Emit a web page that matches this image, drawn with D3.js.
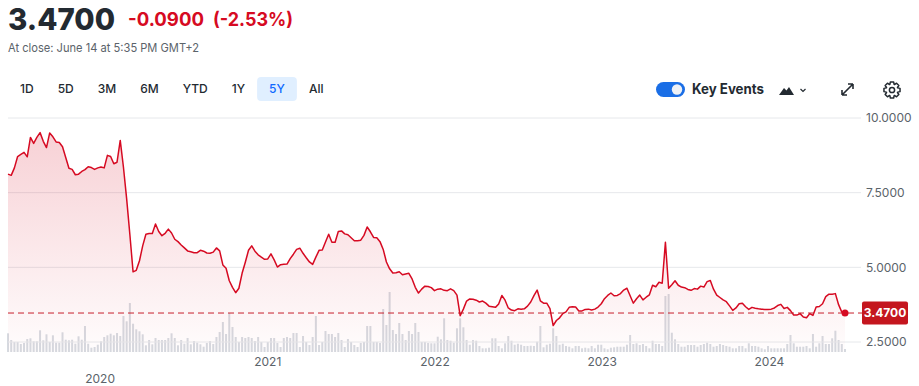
<!DOCTYPE html>
<html>
<head>
<meta charset="utf-8">
<script src="https://cdn.jsdelivr.net/npm/d3@7"></script>
<style>
  body { margin: 0; background: #fff; }
  svg { display: block; font-family: Inter, "Liberation Sans", Arial, sans-serif; }
</style>
</head>
<body>
<div id="chart"></div>
<script>
// weekly closes, first week 2019-06-14, last 2024-06-14
const firstWeek = "2019-06-14"
const closes = [
  8.12, 8.08, 8.33, 8.71, 8.78, 8.85, 8.70, 9.35, 9.15, 9.35,
  9.51, 9.22, 9.01, 9.50, 9.37, 9.20, 9.18, 9.04, 8.68, 8.32,
  8.28, 8.10, 8.12, 8.21, 8.27, 8.37, 8.34, 8.28, 8.33, 8.36,
  8.33, 8.75, 8.71, 8.47, 8.52, 9.25, 8.35, 7.29, 6.10, 4.85,
  4.90, 5.22, 5.72, 6.11, 6.13, 6.13, 6.45, 6.20, 6.06, 6.14,
  6.28, 6.15, 5.94, 5.86, 5.75, 5.65, 5.55, 5.52, 5.49, 5.49,
  5.57, 5.54, 5.48, 5.47, 5.51, 5.65, 5.55,
  5.08, 4.97, 4.55, 4.33, 4.15, 4.30, 4.80, 5.17, 5.57, 5.72,
  5.54, 5.42, 5.34, 5.27, 5.28, 5.45, 5.25, 5.01, 5.09, 5.10,
  5.11, 5.29, 5.44, 5.60, 5.64, 5.47, 5.32, 5.18, 5.10, 5.34,
  5.57, 5.58, 5.85, 6.11, 5.84, 5.84, 6.20, 6.22, 6.12, 6.09,
  5.99, 5.89, 5.89, 5.91, 6.07, 6.35, 6.19, 6.00, 5.99, 5.86,
  5.60, 5.18, 4.95, 4.81, 4.82, 4.85, 4.75, 4.78, 4.80, 4.61,
  4.33, 4.14, 4.27, 4.37, 4.36,
  4.32, 4.22, 4.27, 4.28, 4.23, 4.22, 4.28, 4.22, 4.07, 3.38,
  3.60, 3.87, 3.94, 3.93, 3.90, 3.84, 3.87, 3.80, 3.70, 3.68,
  3.66, 3.77, 4.06, 3.90, 3.64, 3.57, 3.55, 3.61, 3.60, 3.61,
  3.70, 3.84, 4.05, 4.24, 3.88, 3.80, 3.80, 3.62, 3.05, 3.22,
  3.31, 3.45, 3.51, 3.66, 3.68, 3.67, 3.54, 3.54, 3.59, 3.60,
  3.57, 3.60, 3.67, 3.78, 3.95, 4.06, 4.14, 4.05, 4.06, 4.12,
  4.24, 4.30, 4.05, 3.80, 3.95, 4.07,
  3.91, 4.00, 4.08, 4.40, 4.35, 4.50, 4.47, 5.84, 4.30, 4.42,
  4.55, 4.40, 4.34, 4.32, 4.26, 4.23, 4.29, 4.27, 4.37, 4.34,
  4.52, 4.56, 4.27, 4.07, 3.99, 3.91, 3.85, 3.71, 3.56, 3.64,
  3.78, 3.80, 3.68, 3.59, 3.66, 3.63, 3.61, 3.60, 3.59, 3.59,
  3.60, 3.64, 3.72, 3.76, 3.62, 3.66, 3.55, 3.40, 3.40, 3.45,
  3.34, 3.31, 3.45, 3.39, 3.67, 3.69, 3.78, 4.02, 4.10, 4.10,
  4.12, 3.75, 3.50, 3.47
]
// weekly volume, same weeks (relative units)
const volumes = [
  18.7, 12, 10, 10, 8, 9, 13, 13.7, 10.7, 10.7,
  21.7, 11.7, 17.7, 10, 16.7, 9.3, 9.3, 19.7, 12.3, 11.7,
  12.3, 8.3, 15.7, 12.3, 26, 8.3, 4.3, 5, 7.3, 10.7,
  15, 16.7, 18.3, 16.7, 19, 16, 36, 30.7, 49, 28.3,
  22.7, 20.7, 17.7, 6.7, 12, 7.7, 14, 12, 12, 12,
  14, 18.7, 14, 6.7, 12, 8.3, 14, 7.7, 11, 9.3,
  7.7, 5.3, 9,
  11, 8, 15, 20, 30, 18, 39, 25, 15, 10,
  15, 14, 15, 14, 11, 15, 10, 5, 10, 14,
  14, 9, 5, 14, 15, 14, 19, 19, 5, 16,
  10, 7, 15, 36, 7, 10, 21, 18, 18, 15,
  19, 12, 5, 13, 10, 7, 5, 9, 10, 26,
  26, 10, 10, 9, 43, 27, 60, 22, 18, 29,
  18, 12, 21, 18, 29, 20, 10, 10, 9,
  8.7, 8.7, 15.3, 12.7, 33.7, 12, 11.3, 9.3, 23.7, 33.7,
  24.7, 12, 7.3, 12, 11.3, 6, 3.7, 3.7, 4.3, 13.7,
  13.7, 6, 3.7, 8.7, 16, 11.3, 7.3, 8.3, 7.3, 6,
  6, 6.3, 6, 10.3, 26, 4.7, 7.3, 8.3, 23.7, 16,
  7.3, 8.3, 6, 5.3, 3.7, 6, 6, 3.7, 4.3, 3.7,
  6, 3.7, 7.3, 7.3, 3.7, 2.7, 4.3, 4.7, 5.3, 5.3,
  5.3, 7.3,
  17, 8, 8.7, 7, 8, 6, 3.7, 11.3, 8, 8,
  6, 56, 58, 19.3, 12.7, 8, 5.3, 5.3, 7, 7,
  7, 5.3, 7, 8, 9.3, 8, 5.3, 6, 8, 7,
  6, 5.3, 3.7, 3.7, 6, 6, 3.7, 8.7, 6, 6,
  5.3, 3.7, 2.7, 6, 3.7, 3.7, 3.7, 3.7, 3.7, 8,
  17, 8.7, 5.3, 5.3, 5.3, 6, 3.7, 18, 5.3, 8.7,
  16, 8, 8, 13.7, 21.3, 12, 8, 3
]
const priceTicks = [2.5, 5, 7.5, 10]
const yearTicks = [2020, 2021, 2022, 2023, 2024]
const ranges = ["1D", "5D", "3M", "6M", "YTD", "1Y", "5Y", "All"]
const activeRange = "5Y"
const lastClose = 3.47
const change = "-0.0900"
const changePct = "(-2.53%)"
const closeNote = "At close: June 14 at 5:35 PM GMT+2"

;(function () {
  const W = 919, H = 386
  const red = "#d60a22", ink = "#232a31", muted = "#5b636a"
  const plot = { left: 8, right: 845, top: 118, bottom: 342, floor: 352 }

  const svg = d3.select("#chart").append("svg")
    .attr("width", W).attr("height", H)

  const t0 = d3.timeParse("%Y-%m-%d")(firstWeek)
  const dates = closes.map((_, i) => d3.timeDay.offset(t0, 7 * i))

  const x = d3.scaleTime()
    .domain([dates[0], dates[dates.length - 1]])
    .range([plot.left, plot.right])
  const y = d3.scaleLinear().domain([2.5, 10]).range([plot.bottom, plot.top])
  const yVol = d3.scaleLinear().domain([0, d3.max(volumes)]).range([plot.floor, plot.floor - 60])

  // header
  svg.append("text").attr("x", 8).attr("y", 30)
    .attr("font-size", 30).attr("font-weight", 800).attr("fill", ink)
    .attr("textLength", 107).attr("lengthAdjust", "spacingAndGlyphs")
    .text(lastClose.toFixed(4))
  svg.append("text").attr("x", 128).attr("y", 26)
    .attr("font-size", 19).attr("font-weight", 700).attr("fill", red)
    .attr("textLength", 76).attr("lengthAdjust", "spacingAndGlyphs")
    .text(change)
  svg.append("text").attr("x", 213).attr("y", 26)
    .attr("font-size", 19).attr("font-weight", 700).attr("fill", red)
    .attr("textLength", 80).attr("lengthAdjust", "spacingAndGlyphs")
    .text(changePct)
  svg.append("text").attr("x", 8).attr("y", 52)
    .attr("font-size", 12).attr("fill", muted)
    .attr("textLength", 191).attr("lengthAdjust", "spacingAndGlyphs")
    .text(closeNote)

  // range buttons
  const bar = svg.append("g")
  let bx = 8
  ranges.forEach(function (r) {
    const g = bar.append("g")
    const txt = g.append("text")
      .attr("y", 89).attr("dy", "0.35em")
      .attr("font-size", 12).attr("font-weight", 500)
      .attr("fill", r === activeRange ? "#0f69ff" : ink)
      .text(r)
    const w = txt.node().getComputedTextLength() + 24
    if (r === activeRange) {
      g.insert("rect", "text").attr("x", bx).attr("y", 77).attr("width", w).attr("height", 24)
        .attr("rx", 4).attr("fill", "#e0efff")
    }
    txt.attr("x", bx + 12)
    bx += w
  })

  // key events toggle and icons
  svg.append("rect").attr("x", 656).attr("y", 82).attr("width", 29).attr("height", 15)
    .attr("rx", 7.5).attr("fill", "#1a6ee6")
  svg.append("circle").attr("cx", 677).attr("cy", 89.5).attr("r", 5.2).attr("fill", "#eef1f6")
  svg.append("text").attr("x", 692).attr("y", 89).attr("dy", "0.35em")
    .attr("font-size", 14).attr("font-weight", 700).attr("fill", ink)
    .attr("textLength", 72).attr("lengthAdjust", "spacingAndGlyphs")
    .text("Key Events")
  svg.append("path").attr("d", "M779,95 L784,88 L786.5,90.5 L789,87 L794,95 Z").attr("fill", ink)
  svg.append("path").attr("d", "M800.5,89 L803,91.5 L805.5,89")
    .attr("fill", "none").attr("stroke", ink).attr("stroke-width", 1.2)
  svg.append("path")
    .attr("d", "M842,95 L853,84 M842,95 L842,90 M842,95 L847,95 M853,84 L848,84 M853,84 L853,89")
    .attr("fill", "none").attr("stroke", ink).attr("stroke-width", 1.6)

  // gear: 8 teeth
  const gearPts = []
  d3.range(8).forEach(function (j) {
    const c = j * Math.PI / 4
    gearPts.push([c - 0.36, 6], [c - 0.2, 8.2], [c + 0.2, 8.2], [c + 0.36, 6])
  })
  svg.append("path")
    .attr("d", d3.line().curve(d3.curveLinearClosed)
      .x(p => 892 + p[1] * Math.cos(p[0])).y(p => 90 + p[1] * Math.sin(p[0]))(gearPts))
    .attr("fill", "none").attr("stroke", ink).attr("stroke-width", 1.5).attr("stroke-linejoin", "round")
  svg.append("circle").attr("cx", 892).attr("cy", 90).attr("r", 2.6)
    .attr("fill", "none").attr("stroke", ink).attr("stroke-width", 1.5)

  // gradient
  const grad = svg.append("defs").append("linearGradient")
    .attr("id", "fade").attr("gradientUnits", "userSpaceOnUse")
    .attr("x1", 0).attr("x2", 0).attr("y1", plot.top).attr("y2", plot.floor)
  grad.append("stop").attr("offset", 0).attr("stop-color", red).attr("stop-opacity", 0.2)
  grad.append("stop").attr("offset", 1).attr("stop-color", red).attr("stop-opacity", 0.01)

  // volume
  svg.append("g").selectAll("rect")
    .data(volumes)
    .enter().append("rect")
    .attr("x", (d, i) => x(dates[i]) - 1)
    .attr("y", d => yVol(d))
    .attr("width", 2)
    .attr("height", d => plot.floor - yVol(d))
    .attr("fill", "#d6dae0")

  // grid + price labels
  const grid = svg.append("g")
  grid.selectAll("line").data(priceTicks).enter().append("line")
    .attr("x1", plot.left).attr("x2", 861)
    .attr("y1", d => y(d)).attr("y2", d => y(d))
    .attr("stroke", "#e6e8eb").attr("stroke-width", 1)
  grid.selectAll("text").data(priceTicks).enter().append("text")
    .attr("x", 866).attr("y", d => y(d)).attr("dy", "0.35em")
    .attr("font-size", 12).attr("fill", muted)
    .text(d => d.toFixed(4))

  // area + line
  const series = closes.map((c, i) => ({ date: dates[i], close: c }))
  svg.append("path").datum(series)
    .attr("d", d3.area().x(d => x(d.date)).y0(plot.floor).y1(d => y(d.close)))
    .attr("fill", "url(#fade)")
  svg.append("path").datum(series)
    .attr("d", d3.line().x(d => x(d.date)).y(d => y(d.close)))
    .attr("fill", "none").attr("stroke", red).attr("stroke-width", 1.5)
    .attr("stroke-linejoin", "round")

  // last close marker
  svg.append("line")
    .attr("x1", plot.left).attr("x2", 862)
    .attr("y1", y(lastClose)).attr("y2", y(lastClose))
    .attr("stroke", "#c8202c").attr("stroke-width", 1).attr("stroke-dasharray", "6,4")
  svg.append("circle")
    .attr("cx", x(dates[dates.length - 1])).attr("cy", y(lastClose)).attr("r", 3.5)
    .attr("fill", red)
  svg.append("rect").attr("x", 862).attr("y", y(lastClose) - 11.5)
    .attr("width", 46).attr("height", 23).attr("rx", 2).attr("fill", "#c4161e")
  svg.append("text").attr("x", 885).attr("y", y(lastClose)).attr("dy", "0.35em")
    .attr("text-anchor", "middle").attr("font-size", 12).attr("font-weight", 700)
    .attr("fill", "#fff").text(lastClose.toFixed(4))

  // year labels (first one sits on a lower row)
  svg.append("g").selectAll("text").data(yearTicks).enter().append("text")
    .attr("x", d => x(new Date(d, 0, 1)))
    .attr("y", (d, i) => i === 0 ? 383 : 366)
    .attr("text-anchor", "middle").attr("font-size", 12).attr("fill", muted)
    .text(d => d)
})()
</script>
</body>
</html>
